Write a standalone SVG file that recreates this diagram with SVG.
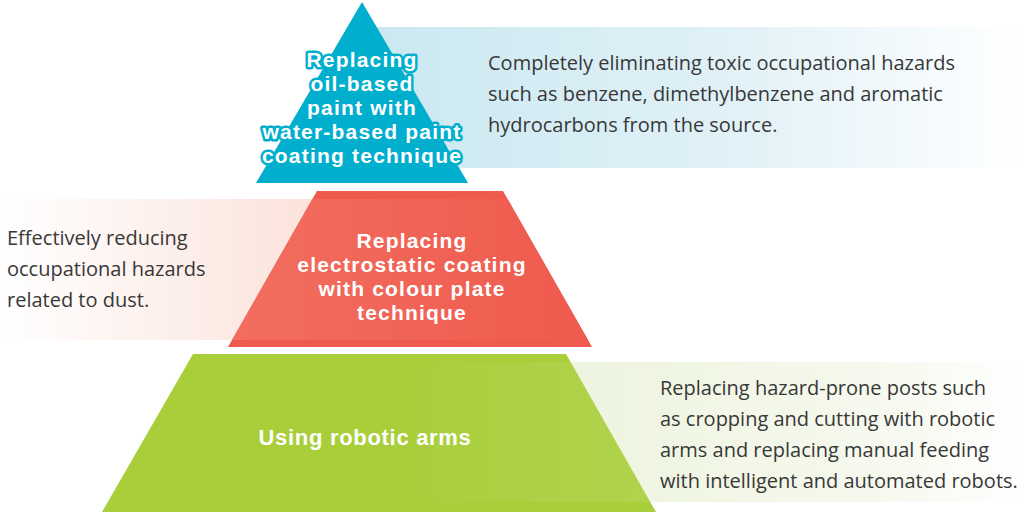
<svg xmlns="http://www.w3.org/2000/svg" width="1023" height="512" viewBox="0 0 1023 512">
<style>
.body{font-family:"Open Sans","Liberation Sans",sans-serif;font-size:20px;fill:#383838}
.title{font-family:"Liberation Sans",Arial,sans-serif;font-weight:bold;font-size:21px;letter-spacing:1.2px;fill:#ffffff;text-anchor:middle}
.halo{stroke:#00aecd;stroke-width:5;stroke-linejoin:round;paint-order:stroke}
</style>
<defs>
<linearGradient id="gBlue" x1="0" y1="0" x2="1" y2="0">
<stop offset="0" stop-color="#cae8f1"/>
<stop offset="0.55" stop-color="#e0f1f7"/>
<stop offset="1" stop-color="#ffffff"/>
</linearGradient>
<linearGradient id="gRedPanel" x1="0" y1="0" x2="1" y2="0">
<stop offset="0" stop-color="#ffffff"/>
<stop offset="1" stop-color="#fbe2da"/>
</linearGradient>
<linearGradient id="gGreenPanel" x1="0" y1="0" x2="1" y2="0">
<stop offset="0" stop-color="#edf4de"/>
<stop offset="0.7" stop-color="#f6f9ee"/>
<stop offset="1" stop-color="#ffffff"/>
</linearGradient>
<linearGradient id="gRed" gradientUnits="userSpaceOnUse" x1="232" y1="0" x2="588" y2="0">
<stop offset="0" stop-color="#f26e5f"/>
<stop offset="1" stop-color="#ef5a4e"/>
</linearGradient>
<linearGradient id="gGreenHi" gradientUnits="userSpaceOnUse" x1="380" y1="0" x2="650" y2="0">
<stop offset="0" stop-color="#ffffff" stop-opacity="0"/>
<stop offset="1" stop-color="#ffffff" stop-opacity="0.1"/>
</linearGradient>
</defs>
<g id="panels">
<rect x="362" y="27" width="661" height="141" fill="url(#gBlue)"/>
<rect x="0" y="199" width="320" height="141" fill="url(#gRedPanel)"/>
<rect x="560" y="362" width="463" height="140" fill="url(#gGreenPanel)"/>
</g>
<g id="tier-top">
<polygon points="362,2 468,183 256,183" fill="#00aecd"/>
<text class="title halo" x="362" y="67">Replacing</text>
<text class="title halo" x="362" y="91">oil-based</text>
<text class="title halo" x="362" y="115">paint with</text>
<text class="title halo" x="362" y="139">water-based paint</text>
<text class="title halo" x="362" y="163">coating technique</text>
</g>
<g id="tier-middle">
<polygon points="317,191 503,191 592,347 228,347" fill="#ef5a4e"/>
<polygon points="312.4,199 507.6,199 588,340 232,340" fill="url(#gRed)"/>
<text class="title" x="412" y="248">Replacing</text>
<text class="title" x="412" y="272">electrostatic coating</text>
<text class="title" x="412" y="296">with colour plate</text>
<text class="title" x="412" y="320">technique</text>
</g>
<g id="tier-bottom">
<polygon points="193,354 566,354 656,512 102,512" fill="#a8ce3a"/>
<polygon points="188.4,362 570.6,362 651.4,502 106.6,502" fill="url(#gGreenHi)"/>
<text class="title" x="365" y="445" style="font-size:22px;letter-spacing:0.7px">Using robotic arms</text>
</g>
<g id="descriptions">
<text class="body" x="488" y="70">Completely eliminating toxic occupational hazards</text>
<text class="body" x="488" y="101">such as benzene, dimethylbenzene and aromatic</text>
<text class="body" x="488" y="132">hydrocarbons from the source.</text>
<text class="body" x="7" y="245">Effectively reducing</text>
<text class="body" x="7" y="276">occupational hazards</text>
<text class="body" x="7" y="307">related to dust.</text>
<text class="body" x="660" y="395">Replacing hazard-prone posts such</text>
<text class="body" x="660" y="426">as cropping and cutting with robotic</text>
<text class="body" x="660" y="457">arms and replacing manual feeding</text>
<text class="body" x="660" y="488">with intelligent and automated robots.</text>
</g>
</svg>
